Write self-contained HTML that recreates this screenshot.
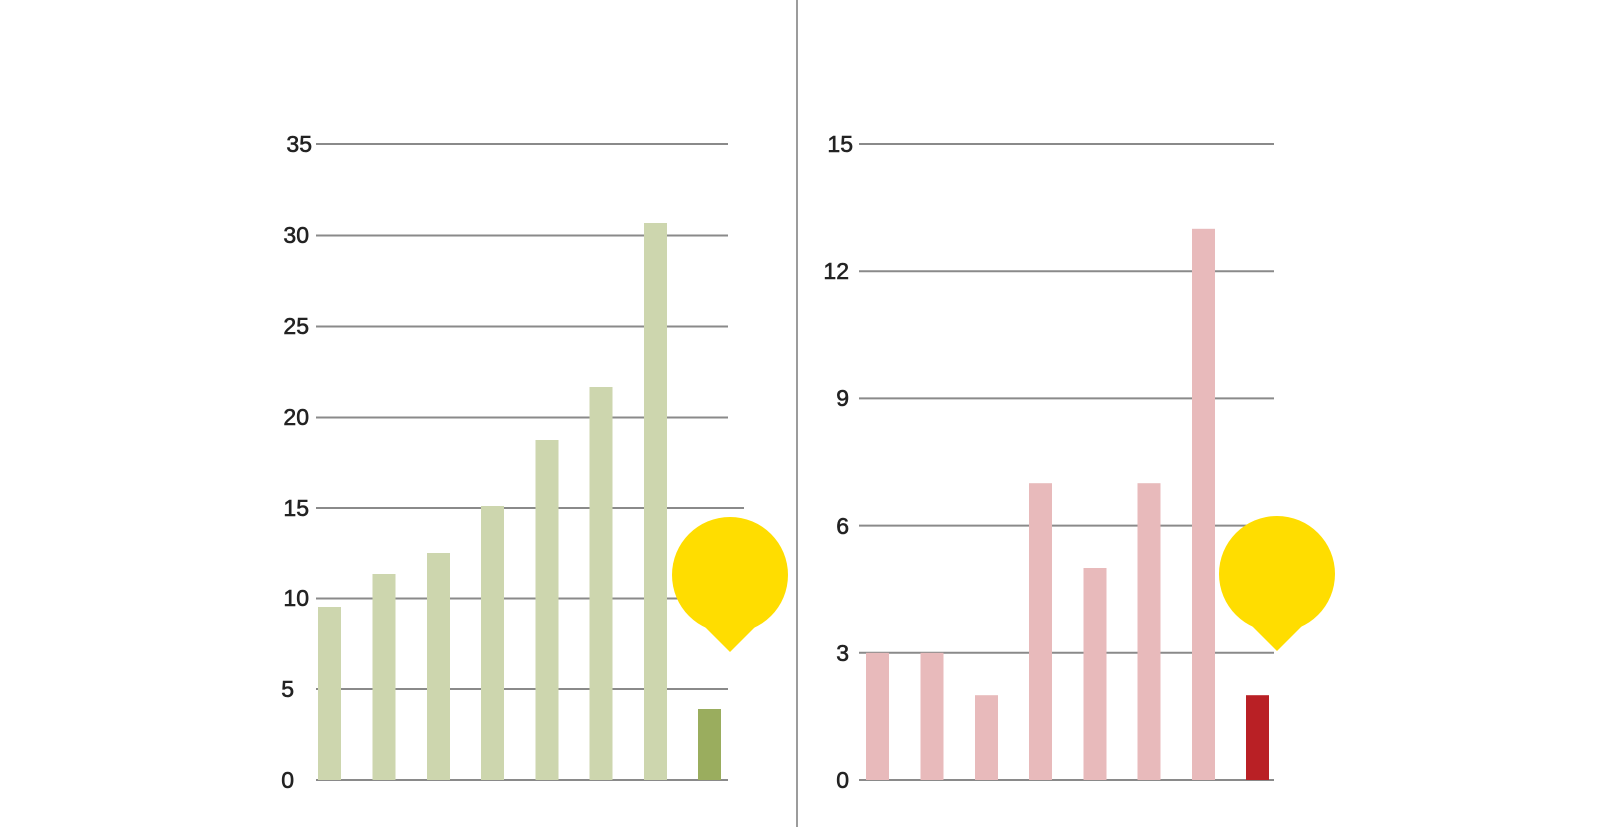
<!DOCTYPE html>
<html><head><meta charset="utf-8"><style>
body{margin:0;background:#fff}
svg text{font-family:"Liberation Sans",sans-serif;font-size:23px;fill:#222;stroke:#222;stroke-width:0.6}
</style></head><body>
<svg width="1600" height="833" viewBox="0 0 1600 833">
<line x1="797" y1="0" x2="797" y2="827" stroke="#666" stroke-width="1.3"/>
<g stroke="#8a8a8a" stroke-width="2">
<line x1="316" y1="144" x2="728" y2="144"/>
<line x1="316" y1="235.5" x2="728" y2="235.5"/>
<line x1="316" y1="326.5" x2="728" y2="326.5"/>
<line x1="316" y1="417.5" x2="728" y2="417.5"/>
<line x1="316" y1="508" x2="744" y2="508"/>
<line x1="316" y1="598.5" x2="728" y2="598.5"/>
<line x1="316" y1="689" x2="728" y2="689"/>
<line x1="316" y1="780" x2="728" y2="780"/>
<line x1="859" y1="144" x2="1274" y2="144"/>
<line x1="859" y1="271.2" x2="1274" y2="271.2"/>
<line x1="859" y1="398.4" x2="1274" y2="398.4"/>
<line x1="859" y1="525.6" x2="1274" y2="525.6"/>
<line x1="859" y1="652.8" x2="1274" y2="652.8"/>
<line x1="859" y1="780" x2="1274" y2="780"/>
</g>
<g text-anchor="end">
<text x="312" y="152">35</text><text x="309" y="243">30</text><text x="309" y="334">25</text>
<text x="309" y="425">20</text><text x="309" y="516">15</text><text x="309" y="606">10</text>
<text x="294" y="697">5</text><text x="294" y="788">0</text>
<text x="853" y="152">15</text><text x="849" y="279">12</text><text x="849" y="406">9</text>
<text x="849" y="534">6</text><text x="849" y="661">3</text><text x="849" y="788">0</text>
</g>
<g fill="#cdd6ae">
<rect x="318" y="607" width="23" height="173"/>
<rect x="372.5" y="574" width="23" height="206"/>
<rect x="427" y="553" width="23" height="227"/>
<rect x="481" y="506" width="23" height="274"/>
<rect x="535.5" y="440" width="23" height="340"/>
<rect x="589.5" y="387" width="23" height="393"/>
<rect x="644" y="223" width="23" height="557"/>
</g>
<rect x="698" y="709" width="23" height="71" fill="#9aad5e"/>
<g fill="#e8babb">
<rect x="866" y="652.8" width="23" height="127.2"/>
<rect x="920.5" y="652.8" width="23" height="127.2"/>
<rect x="975" y="695.2" width="23" height="84.8"/>
<rect x="1029" y="483.2" width="23" height="296.8"/>
<rect x="1083.5" y="568" width="23" height="212"/>
<rect x="1137.5" y="483.2" width="23" height="296.8"/>
<rect x="1192" y="228.8" width="23" height="551.2"/>
</g>
<rect x="1246" y="695.2" width="23" height="84.8" fill="#b92025"/>
<g fill="#ffdd00">
<circle cx="730" cy="575" r="58"/><polygon points="700,622 760,622 730,652"/>
<circle cx="1277" cy="574" r="58"/><polygon points="1247,621 1307,621 1277,651"/>
</g>
</svg>
</body></html>
